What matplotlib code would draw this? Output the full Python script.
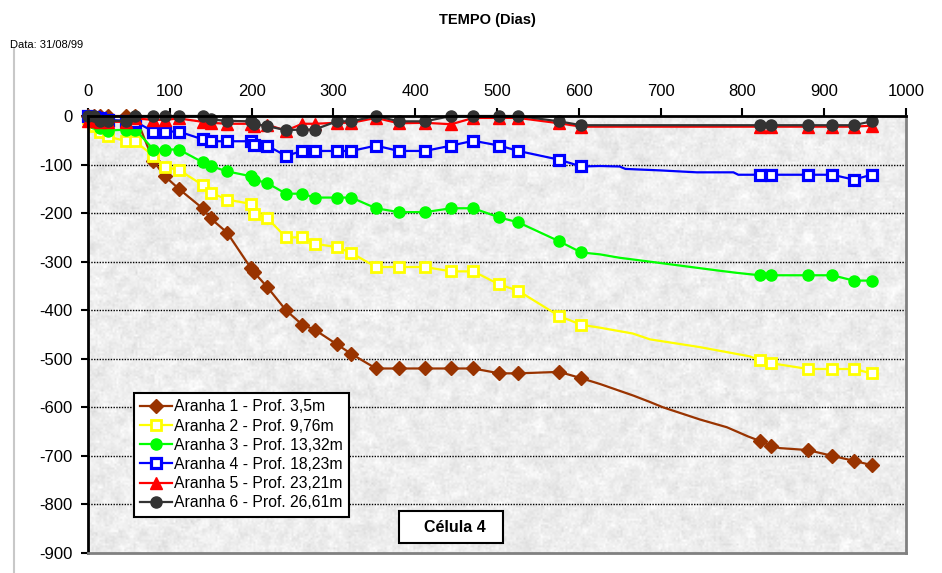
import numpy as np
import matplotlib
matplotlib.use("Agg")
import matplotlib.pyplot as plt
from matplotlib.patches import Rectangle

plt.rcParams["font.family"] = ["Liberation Sans", "DejaVu Sans"]

# Reading days (measurement campaigns)
days = [0, 7, 15, 24, 47, 58, 80, 94, 111, 140, 150, 170, 199, 203, 219, 242,
        262, 277, 304, 322, 352, 380, 412, 444, 471, 503, 526, 576, 603,
        821, 835, 880, 910, 936, 958]

# Settlement readings (mm) per spider
aranha1 = [0, 0, 0, 0, 0, 0, -93, -124, -150, -190, -211, -240, -313, -322, -352, -400,
           -430, -440, -470, -490, -520, -520, -520, -520, -520, -530, -530, -527, -540,
           -669, -679, -688, -700, -710, -719]
aranha2 = [-5, -20, -33, -42, -52, -52, -83, -105, -111, -142, -158, -172, -181, -201, -210, -250,
           -250, -263, -270, -282, -311, -311, -311, -320, -320, -347, -360, -412, -430,
           -503, -509, -521, -521, -521, -530]
aranha3 = [-5, -15, -25, -30, -28, -28, -69, -69, -69, -95, -103, -114, -124, -131, -138, -160,
           -160, -168, -168, -168, -190, -198, -198, -190, -190, -209, -219, -258, -281,
           -328, -328, -328, -328, -339, -339]
aranha4 = [0, -3, -5, -8, -10, -12, -32, -32, -32, -48, -52, -52, -52, -60, -61, -82,
           -72, -72, -72, -72, -61, -72, -72, -61, -51, -61, -72, -90, -104,
           -121, -121, -121, -121, -131, -121]
aranha5 = [-10, -10, -12, -12, -12, -5, -8, -8, -5, -12, -14, -16, -16, -20, -18, -30,
           -16, -16, -14, -14, -4, -15, -14, -17, -4, -4, -4, -15, -22,
           -22, -22, -22, -22, -22, -20]
aranha6 = [0, 0, -10, -10, -10, 0, 0, 0, 0, 0, -7, -10, -11, -16, -21, -29,
           -28, -28, -11, -11, 0, -11, -11, 0, 0, 0, 0, -11, -19,
           -19, -19, -19, -19, -19, -11]

# Unmarked intermediate readings (trend between campaigns)
extra1_days = [626, 667, 687, 703, 748, 781, 807, 846]
extra1 = [-552, -576, -589, -600, -625, -641, -660, -684]
extra2_days = [626, 666, 687, 748, 809]
extra2 = [-436, -448, -460, -476, -495]
extra3_days = [626, 650, 687, 728, 769, 793]
extra3 = [-285, -292, -300, -309, -318, -323]
extra4_days = [626, 650, 657, 699, 744, 789, 795]
extra4 = [-103, -104, -109, -112, -116, -116, -121]

labels = ["Aranha 1 - Prof. 3,5m", "Aranha 2 - Prof. 9,76m", "Aranha 3 - Prof. 13,32m",
          "Aranha 4 - Prof. 18,23m", "Aranha 5 - Prof. 23,21m", "Aranha 6 - Prof. 26,61m"]

x_ticks = list(range(0, 1001, 100))
y_ticks = list(range(0, -901, -100))

fig = plt.figure(figsize=(9.42, 5.73), dpi=100)
ax = fig.add_axes([88 / 942, 20 / 573, 818 / 942, 437 / 573])

# granite-like plot area fill
rng = np.random.default_rng(3)
noise = rng.normal(size=(230, 430))
k = 2
sm = np.zeros_like(noise)
for dy in range(-k, k + 1):
    for dx in range(-k, k + 1):
        sm += np.roll(np.roll(noise, dy, 0), dx, 1)
sm /= (2 * k + 1) ** 2
fine = rng.normal(size=noise.shape)
tex = np.clip(0.93 + 0.08 * sm + 0.018 * fine, 0.8, 1.0)
ax.imshow(tex, cmap="gray", vmin=0, vmax=1, extent=(0, 1, 0, 1),
          transform=ax.transAxes, aspect="auto", interpolation="bilinear", zorder=0)

ax.set_xlim(0, 1000)
ax.set_ylim(-900, 0)

for yv in y_ticks[1:-1]:
    ax.axhline(yv, color="black", lw=1.0, ls=(0, (1, 1)), zorder=1)


def merged(extra_days, extra_vals, vals):
    pts = sorted([(d, v, True) for d, v in zip(days, vals)] +
                 [(d, v, False) for d, v in zip(extra_days, extra_vals)])
    xs = [p[0] for p in pts]
    ys = [p[1] for p in pts]
    marks = [i for i, p in enumerate(pts) if p[2]]
    return xs, ys, marks


series = [
    (aranha1, extra1_days, extra1, dict(color="#993300", marker="D", ms=7,
                                        mfc="#993300", mec="#993300")),
    (aranha2, extra2_days, extra2, dict(color="#FFFF00", marker="s", ms=7,
                                        mfc="white", mec="#FFFF00", mew=2.0)),
    (aranha3, extra3_days, extra3, dict(color="#00FF00", marker="o", ms=8,
                                        mfc="#00FF00", mec="#00FF00")),
    (aranha4, extra4_days, extra4, dict(color="#0000FF", marker="s", ms=7,
                                        mfc="white", mec="#0000FF", mew=2.3)),
    (aranha5, [], [], dict(color="#FF0000", marker="^", ms=8.5,
                          mfc="#FF0000", mec="#FF0000")),
    (aranha6, [], [], dict(color="#333333", marker="o", ms=8,
                          mfc="#333333", mec="#333333")),
]

for i, (vals, ed, ev, st) in enumerate(series):
    xs, ys, marks = merged(ed, ev, vals)
    ax.plot(xs, ys, lw=1.6, markevery=marks, label=labels[i], zorder=3 + i,
            clip_on=False, **st)

# axes frame
for side in ("left", "top"):
    ax.spines[side].set_color("black")
    ax.spines[side].set_linewidth(2.0)
for side in ("right", "bottom"):
    ax.spines[side].set_color("#808080")
    ax.spines[side].set_linewidth(2.0)
for s in ax.spines.values():
    s.set_zorder(10)

ax.xaxis.tick_top()
ax.set_xticks(x_ticks)
ax.set_xticklabels([str(v) for v in x_ticks])
ax.set_yticks(y_ticks)
ax.set_yticklabels([str(v) for v in y_ticks])
ax.tick_params(axis="x", direction="out", length=6, width=1.5, pad=6,
               labelsize=12, top=True, bottom=False)
ax.tick_params(axis="y", direction="out", length=5, width=1.5, pad=6,
               labelsize=12, right=False)

leg = ax.legend(loc="upper left", bbox_to_anchor=(46 / 818, (553 - 393) / 437),
                frameon=True, fancybox=False, edgecolor="black", framealpha=1,
                fontsize=11.3, handlelength=2.0, handletextpad=0.15,
                labelspacing=0.27, borderpad=0.4, borderaxespad=0)
leg.get_frame().set_linewidth(1.5)
leg.set_zorder(20)

ax.add_patch(Rectangle((311 / 818, 10 / 437), 104 / 818, 32 / 437,
                       transform=ax.transAxes, facecolor="white",
                       edgecolor="black", lw=1.5, zorder=20))
ax.text((455 - 88) / 818, (553 - 527) / 437, "Célula 4", transform=ax.transAxes,
        ha="center", va="center", fontsize=11.5, fontweight="bold", zorder=21)

fig.text(487 / 942, 1 - 20 / 573, "TEMPO (Dias)", ha="center", va="center",
         fontsize=10.5, fontweight="bold")
fig.text(10 / 942, 1 - 45 / 573, "Data: 31/08/99", ha="left", va="center",
         fontsize=8)
fig.add_artist(plt.Line2D([14 / 942, 14 / 942], [0, 1 - 48 / 573],
                          transform=fig.transFigure, color="#c8c8c8", lw=1.5))

fig.savefig("out.png", dpi=100)
